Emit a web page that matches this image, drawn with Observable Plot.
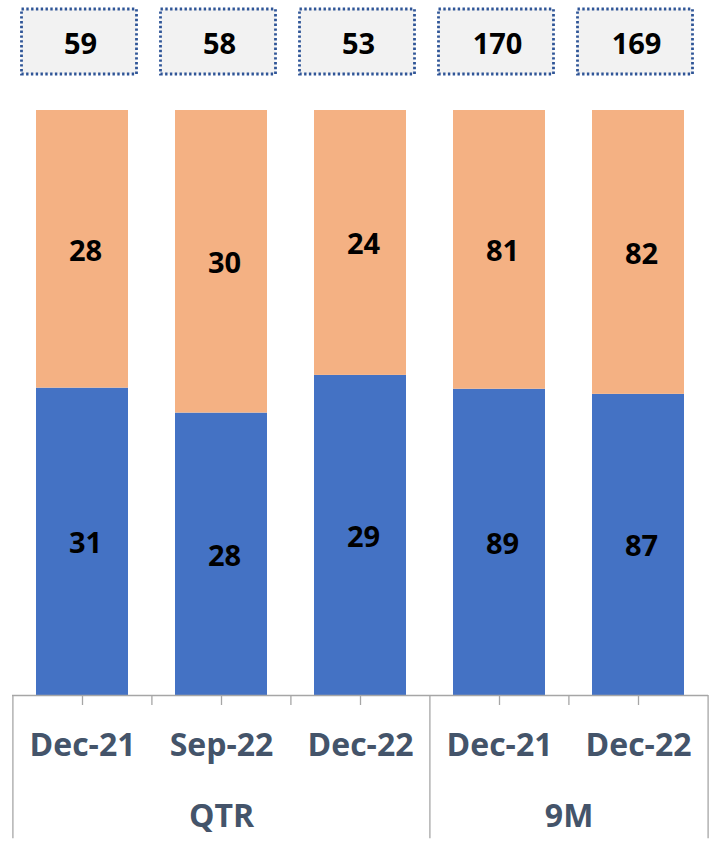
<!DOCTYPE html>
<html>
<head>
<meta charset="utf-8">
<script src="https://cdn.jsdelivr.net/npm/d3@7"></script>
<script src="https://cdn.jsdelivr.net/npm/@observablehq/plot@0.6"></script>
<style>
  html, body { margin: 0; padding: 0; background: #ffffff; }
  #chart svg { display: block; }
</style>
</head>
<body>
<div id="chart"></div>
<script>
// ---- data ----
const periods = ["Dec-21", "Sep-22", "Dec-22", "Dec-21", "Dec-22"];
const groups = ["QTR", "QTR", "QTR", "9M", "9M"];
const blueValues = [31, 28, 29, 89, 87];
const orangeValues = [28, 30, 24, 81, 82];
const totals = [59, 58, 53, 170, 169];
const seriesNames = ["Lower segment", "Upper segment"];
const seriesColors = ["#4472C4", "#F4B183"];

// ---- derived tables ----
const keys = periods.map((p, i) => `${groups[i]}|${p}`);
const rows = [];
keys.forEach((k, i) => {
  rows.push({ key: k, series: seriesNames[0], value: blueValues[i] });
  rows.push({ key: k, series: seriesNames[1], value: orangeValues[i] });
});
const totalRows = keys.map((k, i) => ({ key: k, total: totals[i] }));

const groupNames = Array.from(new Set(groups));
const groupRows = groupNames.map(g => {
  const idx = groups.map((gg, i) => gg === g ? i : -1).filter(i => i >= 0);
  return { group: g, first: keys[idx[0]], n: idx.length };
});

// ---- layout constants ----
const W = 716, H = 851;
const mLeft = 12, mRight = 8, mTop = 110, mBottom = 156;
const step = (W - mLeft - mRight) / keys.length;
const half = step / 2;
const axisColor = "#A6A6A6";
const labelColor = "#44546A";
const font = "'Open Sans', 'Noto Sans', sans-serif";

const shortBoundaries = keys.filter((k, i) => i > 0 && groups[i] === groups[i - 1]);
const longLeft = keys.filter((k, i) => i === 0 || groups[i] !== groups[i - 1]);
const lastKey = keys[keys.length - 1];

const chart = Plot.plot({
  width: W,
  height: H,
  marginLeft: mLeft,
  marginRight: mRight,
  marginTop: mTop,
  marginBottom: mBottom,
  style: { fontFamily: font, background: "#ffffff", overflow: "visible" },
  x: { domain: keys, paddingInner: 0.335, paddingOuter: 0.1675, axis: null },
  y: { domain: [0, 1], axis: null },
  color: { domain: seriesNames, range: seriesColors },
  marks: [
    Plot.barY(rows, { x: "key", y: "value", fill: "series", offset: "normalize" }),
    Plot.text(rows, Plot.stackY({
      x: "key", y: "value", text: "value", offset: "normalize",
      fill: "#000000", fontSize: 29, fontWeight: "bold", dy: 2, dx: 3
    })),
    Plot.barY(totalRows, {
      x: "key", y1: 1, y2: 1,
      insetTop: -101, insetBottom: 36, insetLeft: -11.5, insetRight: -11.5, dx: -3,
      fill: "#F2F2F2", stroke: "#2F5597", strokeWidth: 2.8, strokeDasharray: "2.4 2.4"
    }),
    Plot.text(totalRows, {
      x: "key", text: "total", frameAnchor: "top", dy: -66, dx: -2,
      fill: "#000000", fontSize: 29, fontWeight: "bold", lineAnchor: "middle"
    }),
    Plot.ruleY([0], { stroke: axisColor, strokeWidth: 1.3 }),
    Plot.ruleX(keys, { x: d => d, y1: 0, y2: -0.0171, stroke: axisColor, strokeWidth: 1.3 }),
    Plot.ruleX(shortBoundaries, { x: d => d, y1: 0, y2: -0.0171, dx: -half, stroke: axisColor, strokeWidth: 1.3 }),
    Plot.ruleX(longLeft, { x: d => d, y1: 0, y2: -0.245, dx: -half, stroke: axisColor, strokeWidth: 1.3 }),
    Plot.ruleX([lastKey], { x: d => d, y1: 0, y2: -0.245, dx: half, stroke: axisColor, strokeWidth: 1.3 }),
    Plot.text(keys, {
      x: d => d, text: (d, i) => periods[i], frameAnchor: "bottom", dy: 50,
      lineAnchor: "middle", fill: labelColor, fontSize: 32, fontWeight: "bold"
    }),
    Plot.text(groupRows.filter(g => g.n % 2 === 1), {
      x: g => keys[keys.indexOf(g.first) + (g.n - 1) / 2], text: "group",
      frameAnchor: "bottom", dy: 121, lineAnchor: "middle",
      fill: labelColor, fontSize: 32, fontWeight: "bold"
    }),
    Plot.text(groupRows.filter(g => g.n % 2 === 0), {
      x: g => keys[keys.indexOf(g.first) + g.n / 2 - 1], text: "group",
      frameAnchor: "bottom", dy: 121, dx: half, lineAnchor: "middle",
      fill: labelColor, fontSize: 32, fontWeight: "bold"
    })
  ]
});
document.getElementById("chart").appendChild(chart);
</script>
</body>
</html>
